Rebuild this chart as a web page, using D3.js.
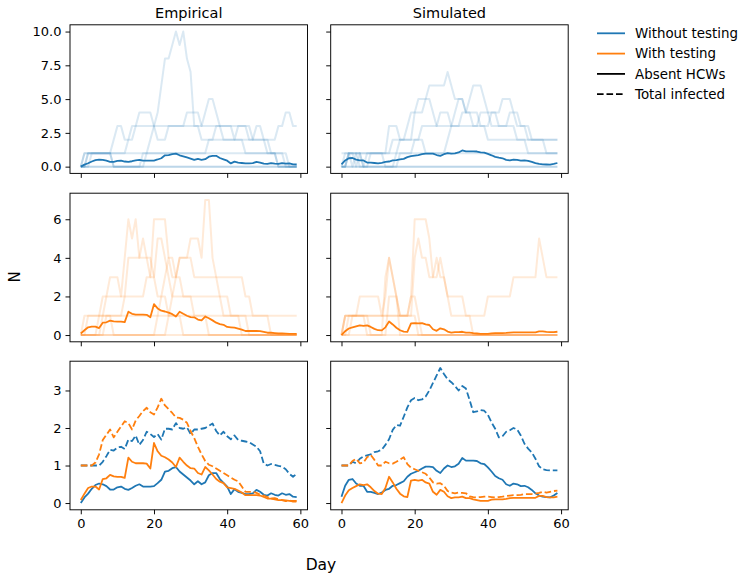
<!DOCTYPE html>
<html>
<head>
<meta charset="utf-8">
<script src="https://cdn.jsdelivr.net/npm/d3@7"></script>
<style>
  body { margin: 0; background: #fff; }
  svg { display: block; font-family: "DejaVu Sans", sans-serif; }
</style>
</head>
<body>
<svg id="chart" width="739" height="578"></svg>
<script>
// ---- data -------------------------------------------------------------
const days = d3.range(60);              // day index 0..59
const colTitles = ["Empirical", "Simulated"];
const xTicks = [0, 20, 40, 60];
const yTicksTop = [0, 2.5, 5, 7.5, 10];
const yTicksMid = [0, 2, 4, 6];
const yTicksBot = [0, 1, 2, 3];
const legendLabels = ["Without testing", "With testing", "Absent HCWs", "Total infected"];

// Absent HCWs per run, without testing (empirical schedules)
const empBlueRuns = [
  [0,1,1,1,1,1,1,1,1,1, 1,1,1,1,1,1,1,1,1,1, 1,1,1,1,1,1,1,1,1,1, 1,1,1,1,1,1,1,1,1,1, 1,1,1,1,1,1,1,1,1,1, 1,1,1,1,1,1,1,0,0,0],
  [0,0,0,0,0,0,0,0,0,0, 0,0,0,0,0,0,0,0,1,2, 3,4,6,8,8,9,10,9,10,8, 7,3,3,2,2,2,2,2,2,2, 2,2,2,2,2,2,2,2,2,2, 2,2,1,1,0,0,0,0,0,0],
  [0,0,1,1,1,1,1,1,1,2, 3,3,2,2,3,3,4,4,4,4, 3,3,3,3,3,3,3,3,3,3, 3,3,3,3,4,5,5,4,3,3, 3,3,2,3,3,3,2,2,3,3, 2,2,2,2,3,3,4,4,3,3],
  [0,0,1,1,1,1,1,1,1,1, 1,1,1,2,2,3,3,3,3,3, 3,2,2,2,3,3,3,3,3,4, 4,4,4,3,3,3,3,3,3,2, 2,2,2,2,2,1,1,1,1,1, 1,1,1,1,1,1,0,0,0,0],
  [0,1,1,1,1,1,1,1,1,0, 0,0,0,0,0,0,0,1,1,1, 1,1,1,1,1,1,1,1,1,1, 1,1,1,1,1,2,2,3,3,3, 3,3,3,3,3,3,3,2,2,2, 2,1,1,1,0,0,0,0,0,0],
  [0,0,0,1,1,1,1,1,1,0, 0,0,0,0,0,0,0,0,0,0, 0,0,0,0,0,0,0,0,0,0, 0,0,0,0,0,0,0,0,0,0, 0,0,0,0,0,0,0,0,0,0, 0,0,0,0,0,0,0,0,0,0],
  [0,0,0,0,0,0,0,0,0,0, 0,0,0,0,0,0,0,0,0,0, 0,0,0,0,0,0,0,0,0,0, 0,0,0,0,0,0,0,0,0,0, 0,0,0,0,0,0,0,0,0,0, 0,0,0,0,0,0,0,0,0,0]
];
// Absent HCWs per run, without testing (simulated schedules)
const simBlueRuns = [
  [1,1,1,1,1,1,1,1,1,1, 1,1,1,1,1,1,1,1,1,1, 1,1,1,1,1,1,1,1,1,1, 1,1,1,1,1,1,1,1,1,1, 1,1,1,1,1,1,1,1,1,1, 1,1,1,1,1,1,1,1,1,1],
  [0,0,1,1,0,1,0,1,1,1, 1,1,1,3,3,3,2,2,2,2, 4,5,5,5,6,6,6,6,6,7, 6,5,5,5,4,4,3,3,3,3, 2,2,2,2,2,2,2,2,2,2, 2,2,2,2,2,2,2,2,2,2],
  [0,1,1,0,1,1,0,0,1,1, 1,1,1,1,2,2,2,2,2,2, 2,2,3,3,3,3,3,4,4,4, 3,3,3,4,4,5,6,6,6,5, 4,3,3,3,3,3,4,4,4,3, 3,3,2,2,2,2,1,1,1,1],
  [0,0,1,1,1,1,1,1,1,1, 1,1,0,0,0,1,2,2,3,4, 4,4,4,5,5,4,3,3,3,3, 3,4,5,5,4,4,4,4,3,3, 3,4,4,4,5,5,5,4,3,3, 3,2,2,2,2,2,2,2,2,2],
  [0,0,0,0,0,0,0,0,0,0, 0,0,0,0,0,0,1,1,1,1, 2,2,2,1,1,1,1,1,1,2, 3,3,3,3,3,3,3,3,4,4, 4,4,4,3,3,3,3,3,2,2, 2,1,1,1,1,1,1,1,1,1],
  [0,0,1,1,1,0,0,0,0,0, 0,0,0,0,0,0,0,0,0,0, 0,0,0,0,0,0,0,0,0,0, 0,0,0,0,0,0,0,0,0,0, 0,0,0,0,0,0,0,0,0,0, 0,0,0,0,0,0,0,0,0,0],
  [0,0,0,0,0,0,0,0,0,0, 0,0,0,0,0,0,0,0,0,0, 0,0,0,0,0,0,0,0,0,0, 0,0,0,0,0,0,0,0,0,0, 0,0,0,0,0,0,0,0,0,0, 0,0,0,0,0,0,0,0,0,0]
];
// Absent HCWs per run, with testing (empirical schedules)
const empOrangeRuns = [
  [0,1,1,1,1,1,1,1,1,1, 1,1,1,1,1,1,1,1,1,1, 1,1,1,1,1,1,1,1,1,1, 1,1,1,1,1,1,1,1,1,1, 1,1,1,1,1,1,1,1,1,1, 1,1,1,1,1,1,1,1,1,1],
  [0,0,0,0,0,0,1,2,3,3, 3,2,4,6,5,6,4,4,4,4, 3,2,2,2,1,1,1,1,0,0, 0,0,0,0,0,0,0,0,0,0, 0,0,0,0,0,0,0,0,0,0, 0,0,0,0,0,0,0,0,0,0],
  [0,0,0,0,0,1,2,2,2,2, 2,2,2,2,2,2,2,2,3,3, 6,6,6,6,4,4,3,3,2,2, 2,1,1,1,1,0,0,0,0,0, 0,0,0,0,0,0,0,0,0,0, 0,0,0,0,0,0,0,0,0,0],
  [0,0,0,0,0,0,0,0,0,0, 0,0,0,0,0,0,0,0,0,0, 0,0,0,0,1,2,3,4,4,4, 5,5,5,4,7,7,4,3,3,3, 3,3,3,3,3,2,2,1,1,1, 1,1,0,0,0,0,0,0,0,0],
  [0,0,0,0,0,0,0,1,1,1, 1,1,2,4,4,4,4,5,4,3, 3,5,5,4,3,2,2,2,2,2, 2,2,2,2,2,2,2,2,2,1, 1,1,1,1,0,0,0,0,0,0, 0,0,0,0,0,0,0,0,0,0],
  [0,0,0,0,0,0,0,0,0,0, 0,0,0,0,0,0,0,0,0,0, 0,1,2,3,4,3,3,4,4,4, 4,3,3,3,3,3,3,3,2,2, 2,1,1,1,1,1,0,0,0,0, 0,0,0,0,0,0,0,0,0,0],
  [0,0,1,1,1,1,1,1,1,0, 0,0,0,0,0,0,0,0,0,0, 0,0,0,0,0,0,0,0,0,0, 0,0,0,0,0,0,0,0,0,0, 0,0,0,0,0,0,0,0,0,0, 0,0,0,0,0,0,0,0,0,0]
];
// Absent HCWs per run, with testing (simulated schedules)
const simOrangeRuns = [
  [0,1,1,1,1,1,1,1,1,1, 1,1,1,1,1,1,1,1,1,2, 6,6,6,6,5,3,3,4,3,2, 1,1,1,1,1,1,1,1,1,1, 2,2,2,2,2,2,2,3,3,3, 3,3,3,3,5,4,3,3,3,3],
  [0,1,1,1,1,2,2,2,2,2, 2,1,2,4,3,2,1,1,1,1, 4,5,4,4,3,3,4,3,3,2, 2,2,2,2,1,1,0,0,0,0, 0,0,0,0,0,0,0,0,0,0, 0,0,0,0,0,0,0,0,0,0],
  [0,1,1,1,1,1,1,1,0,0, 0,0,3,4,3,2,1,1,1,1, 1,0,0,0,0,0,0,0,0,0, 0,0,0,0,0,0,0,0,0,0, 0,0,0,0,0,0,0,0,0,0, 0,0,0,0,0,0,0,0,0,0],
  [0,0,1,1,1,1,1,1,1,1, 1,1,1,1,1,1,1,1,1,2, 2,1,0,0,0,0,0,0,0,0, 0,0,0,0,0,0,0,0,0,0, 0,0,0,0,0,0,0,0,0,0, 0,0,0,0,0,0,0,0,0,0],
  [0,0,0,1,1,1,1,0,0,0, 0,0,0,2,2,2,0,0,0,0, 0,0,0,0,0,0,0,0,0,0, 0,0,0,0,0,0,0,0,0,0, 0,0,0,0,0,0,0,0,0,0, 0,0,0,0,0,0,0,0,0,0],
  [0,0,0,0,0,0,0,0,0,0, 0,0,0,0,0,0,0,0,0,0, 0,0,0,0,0,0,0,0,0,0, 0,0,0,0,0,0,0,0,0,0, 0,0,0,0,0,0,0,0,0,0, 0,0,0,0,0,0,0,0,0,0]
];

// Mean absent HCWs
const empBlueMean = [0.00,0.15,0.25,0.38,0.48,0.52,0.50,0.45,0.36,0.36, 0.42,0.44,0.38,0.35,0.40,0.46,0.50,0.44,0.44,0.44, 0.45,0.53,0.62,0.84,0.86,0.93,0.96,0.84,0.76,0.68, 0.60,0.50,0.58,0.50,0.55,0.74,0.80,0.80,0.64,0.54, 0.44,0.24,0.37,0.30,0.27,0.24,0.24,0.26,0.35,0.30, 0.22,0.20,0.26,0.22,0.20,0.26,0.22,0.24,0.17,0.16];
const simBlueMean = [0.17,0.46,0.62,0.64,0.52,0.46,0.46,0.30,0.30,0.27, 0.24,0.28,0.35,0.38,0.46,0.48,0.53,0.58,0.70,0.78, 0.82,0.86,0.92,0.97,0.97,0.96,0.86,0.80,0.92,1.00, 0.96,0.98,1.05,1.20,1.13,1.13,1.13,1.12,1.06,1.04, 0.95,0.84,0.72,0.66,0.62,0.50,0.46,0.52,0.50,0.45, 0.46,0.42,0.35,0.26,0.20,0.17,0.16,0.15,0.20,0.27];
const empOrangeMean = [0.08,0.25,0.40,0.44,0.44,0.36,0.64,0.66,0.75,0.71, 0.70,0.70,0.67,1.21,1.10,1.06,1.06,1.06,1.05,0.92, 1.60,1.38,1.26,1.22,1.16,1.08,0.96,1.21,1.10,1.00, 0.93,0.92,0.80,0.76,0.96,0.87,0.76,0.64,0.57,0.53, 0.42,0.40,0.38,0.33,0.28,0.21,0.21,0.21,0.21,0.20, 0.16,0.12,0.12,0.10,0.08,0.08,0.07,0.06,0.06,0.06];
const simOrangeMean = [0.00,0.20,0.34,0.40,0.45,0.50,0.48,0.50,0.42,0.32, 0.25,0.24,0.40,0.70,0.55,0.38,0.25,0.18,0.16,0.60, 0.62,0.60,0.62,0.55,0.52,0.30,0.22,0.35,0.30,0.18, 0.13,0.15,0.15,0.17,0.13,0.13,0.10,0.08,0.06,0.06, 0.06,0.09,0.10,0.10,0.10,0.11,0.13,0.14,0.14,0.14, 0.14,0.14,0.14,0.14,0.19,0.19,0.16,0.15,0.15,0.17];

// Mean total infected
const empBlueTotal = [1.00,1.00,1.00,1.00,1.00,1.00,1.10,1.25,1.42,1.40, 1.48,1.50,1.44,1.69,1.65,1.80,1.55,1.68,1.90,1.84, 1.76,1.84,1.69,1.98,1.98,1.96,2.13,2.00,1.98,2.02, 1.84,1.96,1.96,1.98,2.00,2.06,2.12,1.92,1.80,1.90, 1.78,1.70,1.80,1.68,1.66,1.64,1.62,1.56,1.50,1.38, 1.05,1.00,1.04,1.02,0.99,0.97,0.90,0.78,0.70,0.78];
const simBlueTotal = [1.00,1.00,1.00,1.10,1.06,1.18,1.24,1.27,1.30,1.36, 1.38,1.42,1.55,1.70,1.95,2.08,2.06,2.30,2.55,2.74, 2.80,2.74,2.76,2.84,3.00,3.20,3.40,3.60,3.44,3.30, 3.22,3.12,3.00,3.12,3.05,2.75,2.42,2.44,2.48,2.46, 2.35,2.15,1.98,1.75,1.78,1.90,1.94,2.00,1.96,1.80, 1.58,1.45,1.35,1.18,0.98,0.90,0.88,0.87,0.87,0.87];
const empOrangeTotal = [1.00,1.00,1.00,1.00,1.08,1.30,1.68,1.82,1.96,1.75, 1.90,2.04,2.18,2.13,1.96,2.20,2.32,2.45,2.54,2.42, 2.36,2.55,2.78,2.60,2.50,2.40,2.28,2.27,2.22,2.14, 1.92,1.73,1.50,1.30,1.12,1.02,0.98,0.92,0.86,0.80, 0.74,0.68,0.62,0.58,0.44,0.30,0.30,0.30,0.27,0.22, 0.20,0.16,0.12,0.13,0.10,0.08,0.05,0.07,0.04,0.04];
const simOrangeTotal = [1.00,1.00,1.00,1.12,1.18,1.06,1.08,1.22,1.28,1.15, 1.00,1.00,1.10,1.06,1.05,1.10,1.16,1.22,1.04,0.94, 0.90,0.86,0.82,0.78,0.68,0.55,0.52,0.53,0.46,0.32, 0.28,0.26,0.28,0.27,0.26,0.18,0.16,0.15,0.16,0.17, 0.17,0.16,0.15,0.16,0.17,0.19,0.20,0.21,0.21,0.22, 0.24,0.24,0.24,0.25,0.27,0.30,0.28,0.30,0.32,0.33];

// ---- layout -----------------------------------------------------------
const BLUE = "#1f77b4", ORANGE = "#ff7f0e";
const colLeft = [70, 330.7];
const panelW = 237.5;
const rowTop = [24.8, 193.2, 361.2];
const panelH = 148.6;
const tickFont = 13;

const svg = d3.select("#chart");

const x = d3.scaleLinear().domain([-2.95, 61.95]).range([0, panelW]);

function paddedDomain(arrays) {
  const lo = d3.min(arrays, a => d3.min(a));
  const hi = d3.max(arrays, a => d3.max(a));
  const m = (hi - lo) * 0.05;
  return [lo - m, hi + m];
}

const rows = [
  { ticks: yTicksTop, fmt: d3.format(".1f"),
    domain: paddedDomain([...empBlueRuns, ...simBlueRuns]) },
  { ticks: yTicksMid, fmt: d3.format("d"),
    domain: paddedDomain([...empOrangeRuns, ...simOrangeRuns]) },
  { ticks: yTicksBot, fmt: d3.format("d"),
    domain: paddedDomain([empBlueMean, simBlueMean, empOrangeMean, simOrangeMean,
                          empBlueTotal, simBlueTotal, empOrangeTotal, simOrangeTotal]) }
];

// series drawn in each panel [row][col]
const panels = [
  [
    { runs: empBlueRuns, runColor: BLUE, lines: [{ v: empBlueMean, c: BLUE }] },
    { runs: simBlueRuns, runColor: BLUE, lines: [{ v: simBlueMean, c: BLUE }] }
  ],
  [
    { runs: empOrangeRuns, runColor: ORANGE, lines: [{ v: empOrangeMean, c: ORANGE }] },
    { runs: simOrangeRuns, runColor: ORANGE, lines: [{ v: simOrangeMean, c: ORANGE }] }
  ],
  [
    { runs: [], lines: [
      { v: empBlueMean, c: BLUE }, { v: empBlueTotal, c: BLUE, dash: true },
      { v: empOrangeMean, c: ORANGE }, { v: empOrangeTotal, c: ORANGE, dash: true } ] },
    { runs: [], lines: [
      { v: simBlueMean, c: BLUE }, { v: simBlueTotal, c: BLUE, dash: true },
      { v: simOrangeMean, c: ORANGE }, { v: simOrangeTotal, c: ORANGE, dash: true } ] }
  ]
];

function styleAxis(g) {
  g.select(".domain").remove();
  g.selectAll(".tick line").attr("stroke", "#000").attr("stroke-width", 0.95);
  g.selectAll(".tick text").attr("fill", "#000")
    .attr("font-size", tickFont).attr("font-family", "DejaVu Sans, sans-serif");
}

rows.forEach((row, r) => {
  const y = d3.scaleLinear().domain(row.domain).range([panelH, 0]);
  const line = d3.line().x((d, i) => x(days[i])).y(d => y(d));

  [0, 1].forEach(c => {
    const g = svg.append("g").attr("transform", `translate(${colLeft[c]},${rowTop[r]})`);
    const p = panels[r][c];

    // individual runs, faint
    g.append("g").selectAll("path").data(p.runs).join("path")
      .attr("d", line)
      .attr("fill", "none")
      .attr("stroke", p.runColor)
      .attr("stroke-opacity", 0.16)
      .attr("stroke-width", 2)
      .attr("stroke-linejoin", "round");

    // averaged series
    g.append("g").selectAll("path").data(p.lines).join("path")
      .attr("d", d => line(d.v))
      .attr("fill", "none")
      .attr("stroke", d => d.c)
      .attr("stroke-width", 1.8)
      .attr("stroke-dasharray", d => d.dash ? "6.6,2.9" : null)
      .attr("stroke-linejoin", "round");

    // axes
    const yAxis = d3.axisLeft(y).tickValues(row.ticks).tickSize(4.5).tickPadding(4)
      .tickFormat(c === 0 ? row.fmt : () => "");
    g.append("g").call(yAxis).call(styleAxis);

    const xAxis = d3.axisBottom(x).tickValues(xTicks).tickSize(4.5).tickPadding(4)
      .tickFormat(r === 2 ? d3.format("d") : () => "");
    g.append("g").attr("transform", `translate(0,${panelH})`).call(xAxis).call(styleAxis);

    // frame
    g.append("rect").attr("width", panelW).attr("height", panelH)
      .attr("fill", "none").attr("stroke", "#000").attr("stroke-width", 0.95);

    if (r === 0) {
      svg.append("text")
        .attr("x", colLeft[c] + panelW / 2).attr("y", 17.5)
        .attr("text-anchor", "middle").attr("font-size", 14.5).attr("fill", "#000")
        .text(colTitles[c]);
    }
  });
});

// shared axis labels
svg.append("text")
  .attr("transform", "translate(19.5,277) rotate(-90)")
  .attr("text-anchor", "middle").attr("font-size", 15).attr("fill", "#000")
  .text("N");
svg.append("text")
  .attr("x", 321).attr("y", 570)
  .attr("text-anchor", "middle").attr("font-size", 15.5).attr("fill", "#000")
  .text("Day");

// legend
const legendItems = [
  { label: legendLabels[0], color: BLUE, dash: false },
  { label: legendLabels[1], color: ORANGE, dash: false },
  { label: legendLabels[2], color: "#000", dash: false },
  { label: legendLabels[3], color: "#000", dash: true }
];
const leg = svg.append("g");
legendItems.forEach((it, i) => {
  const cy = 33.3 + i * 20.3;
  leg.append("line")
    .attr("x1", 597).attr("x2", 625).attr("y1", cy).attr("y2", cy)
    .attr("stroke", it.color).attr("stroke-width", 1.8)
    .attr("stroke-dasharray", it.dash ? "6.6,2.9" : null);
  leg.append("text")
    .attr("x", 635).attr("y", cy + 4.8)
    .attr("font-size", 13.4).attr("fill", "#000")
    .text(it.label);
});
</script>
</body>
</html>
